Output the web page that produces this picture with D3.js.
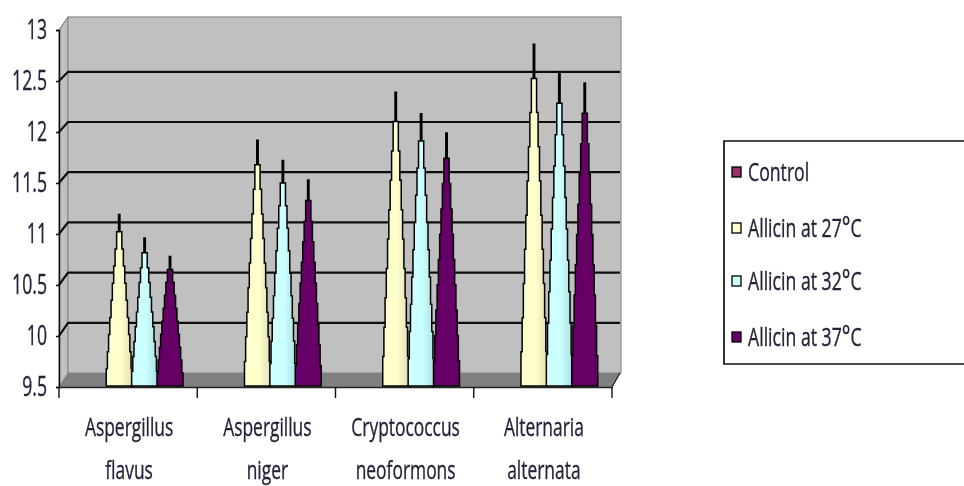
<!DOCTYPE html>
<html><head><meta charset="utf-8">
<script src="https://cdn.jsdelivr.net/npm/d3@7"></script>
<style>html,body{margin:0;padding:0;background:#fff}svg{display:block}text{font-family:"Open Sans",sans-serif;fill:#23233a;stroke:#23233a;stroke-width:0.35}</style>
</head><body><svg id="c" width="964" height="486"></svg>
<script>
const categories=[["Aspergillus","flavus"],["Aspergillus","niger"],["Cryptococcus","neoformons"],["Alternaria","alternata"]];
const seriesNames=["Control","Allicin at 27°C","Allicin at 32°C","Allicin at 37°C"];
const allicin27=[11.19,11.92,12.39,12.86];
const allicin32=[10.96,11.72,12.18,12.59];
const allicin37=[10.78,11.53,11.99,12.48];
const yTicks=[9.5,10,10.5,11,11.5,12,12.5,13];
const series=[allicin27,allicin32,allicin37];
const swatchColors=["#993366","#FFFFCC","#CCFFFF","#660066"];
const lightColors=["#FFFFCC","#CCFFFF","#660066"];
const darkColors=["#E4DFB4","#A9E0E0","#660066"];

const svg=d3.select("#c");
const defs=svg.append("defs");
defs.append("filter").attr("id","soft").attr("x","-5%").attr("y","-5%").attr("width","110%").attr("height","110%")
  .append("feGaussianBlur").attr("stdDeviation",0.55);
lightColors.forEach((c,i)=>{
  const g=defs.append("linearGradient").attr("id","g"+i);
  g.append("stop").attr("offset","0%").attr("stop-color",c);
  g.append("stop").attr("offset","55%").attr("stop-color",c);
  g.append("stop").attr("offset","100%").attr("stop-color",darkColors[i]);
});
const root=svg.append("g").attr("filter","url(#soft)");

const left=59,right=612,dx=9;
const y=d3.scaleLinear().domain([9.5,13]).range([387,30]);
const yBack=d3.scaleLinear().domain([9.5,13]).range([373,21.6]);
const x0=d3.scaleBand().domain(d3.range(categories.length)).range([left,right]);

// walls and floor
const poly=d3.line();
root.append("path").attr("d",poly([[left,30],[left+dx,17],[left+dx,373],[left,387]])+"Z").attr("fill","#C0C0C0").attr("stroke","#808080");
root.append("rect").attr("x",left+dx).attr("y",17).attr("width",right-left).attr("height",356).attr("fill","#C0C0C0").attr("stroke","#8c8c8c").attr("stroke-width",1.2);
root.append("path").attr("d",poly([[left,387],[left+dx,373],[right+dx-1,373],[right,387]])+"Z").attr("fill","#808080");

// gridlines
const grid=yTicks.filter(v=>v>9.5&&v<13);
root.selectAll(".g").data(grid).join("path").attr("fill","none").attr("stroke","#111").attr("stroke-width",2.2)
  .attr("d",v=>poly([[left,y(v)],[left+dx,yBack(v)],[right+dx-1,yBack(v)]]));

// axes
root.append("path").attr("d",poly([[left,30],[left+dx,17]])).attr("stroke","#808080").attr("fill","none");
const axL=root.append("g").attr("transform",`translate(${left},0)`).call(d3.axisLeft(y).tickValues(yTicks).tickSize(3).tickFormat(""));
axL.selectAll("path,line").attr("stroke","#111").attr("stroke-width",1.5);
const axB=root.append("g").attr("transform","translate(0,387)").call(d3.axisBottom(x0).tickValues([]).tickSizeOuter(0).tickFormat(""));
axB.select("path").attr("stroke","#222").attr("stroke-width",1.6);
root.selectAll(".bt").data(d3.range(categories.length+1)).join("line")
  .attr("x1",i=>left+i*x0.step()).attr("x2",i=>left+i*x0.step()).attr("y1",387).attr("y2",398).attr("stroke","#111").attr("stroke-width",1.4);
root.append("path").attr("d",poly([[right,387],[right+dx-1,373]])).attr("stroke","#222").attr("stroke-width",1.4);

function label(g,str,xp,yp,size,sx,anchor){
  const t=g.append("text").attr("transform",`translate(${xp},${yp}) scale(${sx},1)`).attr("font-size",size).attr("text-anchor",anchor);
  str.split(/(°)/).forEach(p=>{ if(p) t.append("tspan").attr("font-size",p==="°"?size*1.15:size).text(p); });
  return t;
}
yTicks.forEach(v=>label(root,String(v),47,y(v)+9,28,0.63,"end"));
categories.forEach((c,i)=>{
  const cx=x0(i)+x0.bandwidth()/2+1;
  c.forEach((s,j)=>label(root,s,cx,436+j*43,26,0.67,"middle"));
});

// stepped cones
const STEPS=10, baseY=y(9.5)-1;
const hw=d3.scalePow().exponent(0.85).domain([0,1]).range([0.7,13]);
categories.forEach((c,i)=>{
  series.forEach((vals,s)=>{
    const cx=x0(i)+x0.bandwidth()/2+16.5+(s-1)*25.4;
    const t=d3.scaleLinear().domain([0,STEPS]).range([baseY,y(vals[i])]);
    const half=k=>hw(1-Math.min(k,STEPS-1)/(STEPS-1));
    const lp=d3.range(STEPS+1).map(k=>[cx-half(k),t(k)]);
    const rp=d3.range(STEPS,-1,-1).map(k=>[cx+half(k),t(k)]);
    const stepL=d3.line().curve(d3.curveStepBefore)(lp);
    const stepR=d3.line().curve(d3.curveStepAfter)(rp);
    root.append("path").attr("d",stepL+"L"+stepR.slice(1)+"Z")
      .attr("fill",`url(#g${s})`).attr("stroke","#000").attr("stroke-width",1.5).attr("stroke-linejoin","miter");
  });
});

// legend
root.append("path").attr("d",poly([[966,141],[724,141],[724,364],[966,364]])).attr("fill","#fff").attr("stroke","#111").attr("stroke-width",1.7);
const rowY=[172,228,281,337];
seriesNames.forEach((n,i)=>{
  root.append("rect").attr("x",732).attr("y",rowY[i]-5).attr("width",9).attr("height",10).attr("fill",swatchColors[i]).attr("stroke","#000").attr("stroke-width",1.3);
  label(root,n,748,rowY[i]+9,26,0.68,"start");
});
</script></body></html>
